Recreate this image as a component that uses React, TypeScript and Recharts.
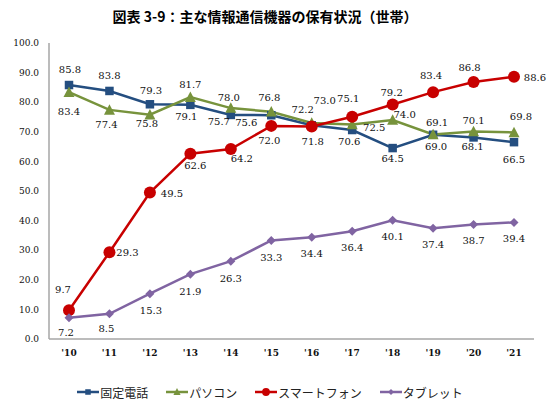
import React from "react";
import { LineChart, Line, XAxis, YAxis, Legend } from "recharts";

const YEARS = ["'10", "'11", "'12", "'13", "'14", "'15", "'16", "'17", "'18", "'19", "'20", "'21"];
const FIXED_PHONE = [85.8, 83.8, 79.3, 79.1, 75.7, 75.6, 72.2, 70.6, 64.5, 69.0, 68.1, 66.5];
const PC = [83.4, 77.4, 75.8, 81.7, 78.0, 76.8, 73.0, 72.5, 74.0, 69.1, 70.1, 69.8];
const SMARTPHONE = [9.7, 29.3, 49.5, 62.6, 64.2, 72.0, 71.8, 75.1, 79.2, 83.4, 86.8, 88.6];
const TABLET = [7.2, 8.5, 15.3, 21.9, 26.3, 33.3, 34.4, 36.4, 40.1, 37.4, 38.7, 39.4];
const Y_TICKS = [0, 10, 20, 30, 40, 50, 60, 70, 80, 90, 100];

// label nudges (dx, dy) per point, like the hand-placed labels in the source
const FIXED_OFFSETS = [[1, -16], [0, -15], [1, -14], [-4, 12], [-12, 7], [-25, 7], [-9, -16], [-3, 11], [0, 10], [3, 12], [-1, 9], [0, 17]];
const PC_OFFSETS = [[0, 19], [-3, 15], [-3, 9], [0, -13], [-2, -11], [-2, -14], [13, -22], [22, 3], [12, -5], [4, -12], [0, -11], [7, -16]];
const SMARTPHONE_OFFSETS = [[-6, -21], [18, 0], [22, 1], [5, 12], [11, 10], [-2, 15], [1, 15], [-4, -18], [-1, -12], [-2, -17], [-4, -15], [21, 1]];
const TABLET_OFFSETS = [[-3, 15], [-3, 15], [1, 17], [0, 17], [0, 17], [0, 17], [0, 16], [0, 16], [0, 16], [0, 16], [0, 16], [0, 16]];

const BLUE = "#244e80";
const GREEN = "#77933c";
const RED = "#c80000";
const PURPLE = "#8064a2";
const FRAME = "#a6a6a6";
const NUM_FONT = "'DejaVu Serif', serif";
const JP_FONT = "'Noto Sans CJK JP', sans-serif";

const data = YEARS.map((year, i) => ({
  year,
  fixed: FIXED_PHONE[i],
  pc: PC[i],
  smartphone: SMARTPHONE[i],
  tablet: TABLET[i],
}));

type Shape = "square" | "triangle" | "circle" | "diamond";

function Marker({ cx, cy, shape, color, scale = 1 }: { cx: number; cy: number; shape: Shape; color: string; scale?: number }) {
  if (cx == null || cy == null) return null;
  if (shape === "square") {
    const s = 8.5 * scale;
    return <rect x={cx - s / 2} y={cy - s / 2} width={s} height={s} fill={color} />;
  }
  if (shape === "triangle") {
    const w = 11 * scale;
    const h = 9.5 * scale;
    return <polygon points={`${cx},${cy - h / 2 - 1} ${cx + w / 2},${cy + h / 2} ${cx - w / 2},${cy + h / 2}`} fill={color} />;
  }
  if (shape === "circle") {
    return <circle cx={cx} cy={cy} r={6 * scale} fill={color} />;
  }
  const d = 4.5 * scale;
  return <polygon points={`${cx},${cy - d} ${cx + d},${cy} ${cx},${cy + d} ${cx - d},${cy}`} fill={color} />;
}

const makeDot = (shape: Shape, color: string) => (p: any) => (
  <Marker key={`${shape}-${p.index}`} cx={p.cx} cy={p.cy} shape={shape} color={color} />
);

const makeLabel = (offsets: number[][]) => (p: any) => {
  const i = p.index ?? 0;
  const [dx, dy] = offsets[i] ?? [0, -14];
  return (
    <text
      key={`lbl-${i}`}
      x={p.x + dx}
      y={p.y + dy}
      textAnchor="middle"
      dominantBaseline="central"
      fontFamily={NUM_FONT}
      fontSize={10}
      fill="#111"
    >
      {Number(p.value).toFixed(1)}
    </text>
  );
};

const LEGEND_ITEMS: { name: string; color: string; shape: Shape }[] = [
  { name: "固定電話", color: BLUE, shape: "square" },
  { name: "パソコン", color: GREEN, shape: "triangle" },
  { name: "スマートフォン", color: RED, shape: "circle" },
  { name: "タブレット", color: PURPLE, shape: "diamond" },
];

function LegendContent() {
  return (
    <div style={{ display: "flex", justifyContent: "center", alignItems: "center", height: 28 }}>
      {LEGEND_ITEMS.map((it) => (
        <div key={it.name} style={{ display: "flex", alignItems: "center", marginRight: 18 }}>
          <svg width={22} height={12}>
            <line x1={0} y1={6} x2={22} y2={6} stroke={it.color} strokeWidth={2.5} />
            <Marker cx={11} cy={6} shape={it.shape} color={it.color} scale={0.65} />
          </svg>
          <span style={{ fontFamily: JP_FONT, fontSize: 12, color: "#222", marginLeft: 1 }}>{it.name}</span>
        </div>
      ))}
    </div>
  );
}

export default function App() {
  return (
    <div style={{ position: "absolute", left: 0, top: 0, width: 558, height: 406, background: "#fff" }}>
      <div
        style={{
          position: "absolute",
          left: 0,
          top: 6,
          width: 530,
          textAlign: "center",
          fontFamily: JP_FONT,
          fontWeight: 700,
          fontSize: 14,
          color: "#000",
        }}
      >
        図表 3-9：主な情報通信機器の保有状況（世帯）
      </div>
      <LineChart width={558} height={406} data={data} margin={{ top: 43, right: 24, left: 0, bottom: 9 }}>
        <XAxis
          dataKey="year"
          padding={{ left: 20, right: 20 }}
          tickLine={false}
          axisLine={{ stroke: FRAME, strokeWidth: 1.5 }}
          tick={{ fontFamily: NUM_FONT, fontSize: 9, fill: "#111", fontWeight: 700 }}
          tickMargin={5}
          height={30}
          interval={0}
        />
        <XAxis
          xAxisId="top"
          orientation="top"
          dataKey="year"
          padding={{ left: 20, right: 20 }}
          tick={false}
          tickLine={false}
          height={0}
          axisLine={{ stroke: FRAME, strokeWidth: 1.5 }}
        />
        <YAxis
          domain={[0, 100]}
          ticks={Y_TICKS}
          tickFormatter={(v: number) => v.toFixed(1)}
          tickLine={false}
          axisLine={{ stroke: FRAME, strokeWidth: 1.5 }}
          tick={{ fontFamily: NUM_FONT, fontSize: 9, fill: "#111" }}
          tickMargin={4}
          width={49}
          interval={0}
        />
        <YAxis
          yAxisId="right"
          orientation="right"
          domain={[0, 100]}
          tick={false}
          tickLine={false}
          width={0}
          axisLine={{ stroke: FRAME, strokeWidth: 1.5 }}
        />
        <Legend verticalAlign="bottom" wrapperStyle={{ bottom: 0, left: 0, width: 558 }} content={() => <LegendContent />} />
        <Line dataKey="fixed" name="固定電話" stroke={BLUE} strokeWidth={2.5} dot={makeDot("square", BLUE)} label={makeLabel(FIXED_OFFSETS)} isAnimationActive={false} />
        <Line dataKey="pc" name="パソコン" stroke={GREEN} strokeWidth={2.5} dot={makeDot("triangle", GREEN)} label={makeLabel(PC_OFFSETS)} isAnimationActive={false} />
        <Line dataKey="smartphone" name="スマートフォン" stroke={RED} strokeWidth={2.5} dot={makeDot("circle", RED)} label={makeLabel(SMARTPHONE_OFFSETS)} isAnimationActive={false} />
        <Line dataKey="tablet" name="タブレット" stroke={PURPLE} strokeWidth={2.5} dot={makeDot("diamond", PURPLE)} label={makeLabel(TABLET_OFFSETS)} isAnimationActive={false} />
      </LineChart>
    </div>
  );
}
